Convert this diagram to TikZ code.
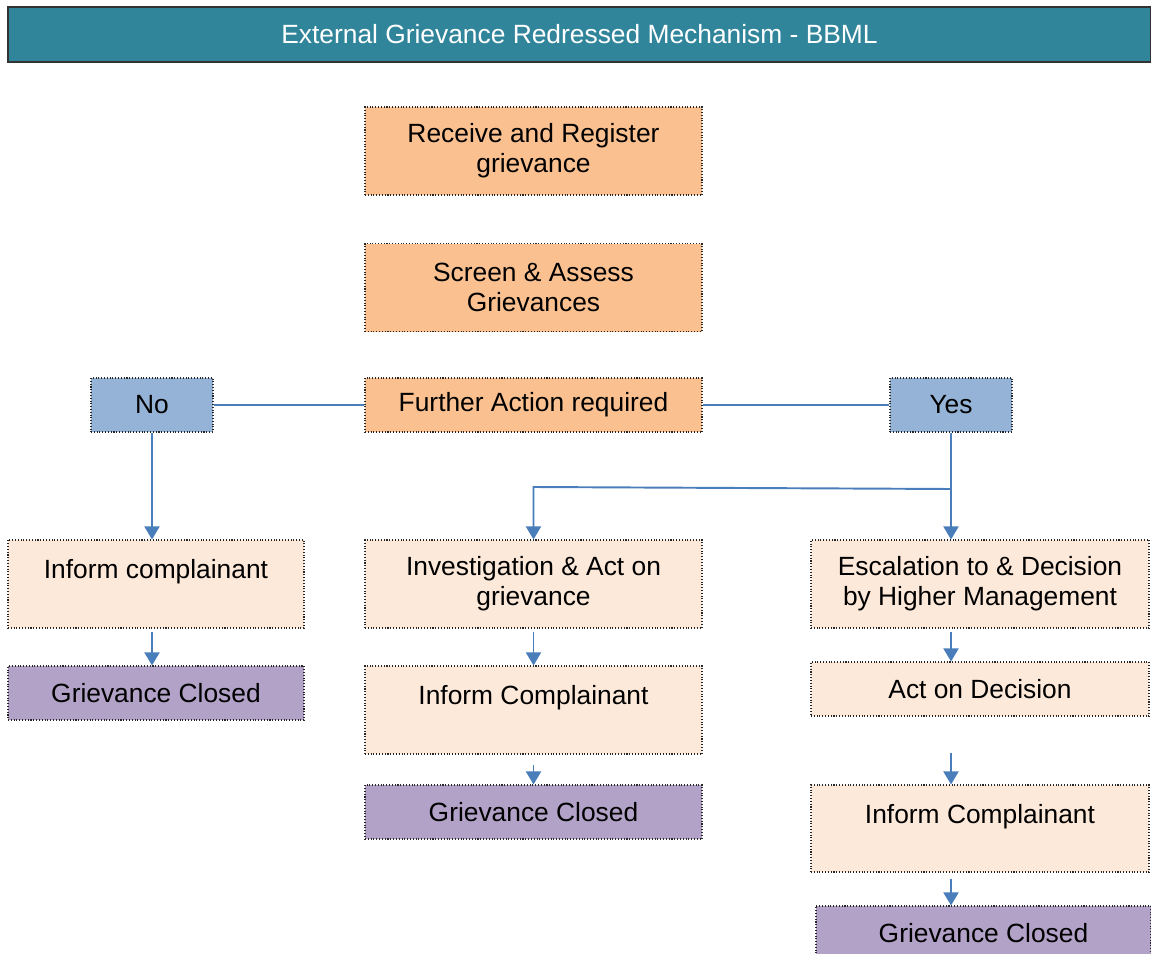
\documentclass[tikz,border=0pt]{standalone}
\usepackage{fontspec}
\setmainfont{Liberation Sans}
\usetikzlibrary{arrows.meta}
\definecolor{titleteal}{RGB}{49,133,155}
\definecolor{stepor}{RGB}{250,192,144}
\definecolor{answerblue}{RGB}{149,179,215}
\definecolor{actpeach}{RGB}{253,233,217}
\definecolor{closedlilac}{RGB}{178,162,199}
\definecolor{linkblue}{RGB}{74,126,187}
\begin{document}
\begin{tikzpicture}[every node/.style={font=\fontsize{15}{17}\selectfont},
  box/.style={draw=black!85, densely dotted, line width=0.6pt, align=center, inner sep=0pt, minimum width=6.74cm},
  tallbox/.style={box, minimum height=1.76cm},
  flatbox/.style={box, minimum height=1.08cm},
  link/.style={linkblue, line width=1.1pt},
  arr/.style={link, -{Triangle[width=0.3cm,length=0.26cm]}}]
  \useasboundingbox (0,0) rectangle (23.02,-19.08);
  % title bar
  \node[draw=black!80, line width=0.8pt, fill=titleteal, text=white, minimum width=22.86cm, minimum height=1.1cm, inner sep=0pt] (title) at (11.59,-0.69) {External Grievance Redressed Mechanism - BBML};
  % main column
  \node[tallbox, fill=stepor] (receive) at (10.67,-3.02) {Receive and Register\\grievance};
  \node[tallbox, fill=stepor] (screen) at (10.67,-5.75) {Screen \& Assess\\Grievances};
  \node[flatbox, fill=stepor] (further) at (10.67,-8.10) {Further Action required};
  \node[flatbox, fill=answerblue, minimum width=2.44cm] (no) at (3.04,-8.10) {No};
  \node[flatbox, fill=answerblue, minimum width=2.44cm] (yes) at (19.02,-8.10) {Yes};
  % no branch
  \node[tallbox, fill=actpeach, minimum width=5.92cm] (informA) at (3.12,-11.68) {Inform complainant\\\mbox{}};
  \node[flatbox, fill=closedlilac, minimum width=5.92cm] (closedA) at (3.12,-13.86) {Grievance Closed};
  % investigation branch
  \node[tallbox, fill=actpeach] (invest) at (10.67,-11.68) {Investigation \& Act on\\grievance};
  \node[tallbox, fill=actpeach] (informB) at (10.67,-14.20) {Inform Complainant\\\mbox{}};
  \node[flatbox, fill=closedlilac] (closedB) at (10.67,-16.24) {Grievance Closed};
  % escalation branch
  \node[tallbox, fill=actpeach, minimum width=6.76cm] (escal) at (19.60,-11.68) {Escalation to \& Decision\\by Higher Management};
  \node[flatbox, fill=actpeach, minimum width=6.76cm] (actdec) at (19.60,-13.78) {Act on Decision};
  \node[tallbox, fill=actpeach, minimum width=6.76cm, minimum height=1.74cm] (informC) at (19.60,-16.57) {Inform Complainant\\\mbox{}};
  \node[flatbox, fill=closedlilac, minimum width=6.70cm] (closedC) at (19.67,-18.66) {Grievance Closed};
  % connectors
  \draw[link] (no) -- (further);
  \draw[link] (further) -- (yes);
  \draw[arr] (no.south) -- (no.south |- informA.north);
  \draw[arr, shorten <=0.06cm] (informA.south -| no.south) -- (closedA.north -| no.south);
  \coordinate (fork) at (19.02,-9.78);
  \coordinate (bend) at (10.67,-9.74);
  \draw[arr] (yes.south) -- (yes.south |- escal.north);
  \draw[arr] (fork) -- (bend) -- (invest.north);
  \draw[arr, shorten <=0.06cm] (invest) -- (informB);
  \draw[arr, shorten <=0.2cm] (informB) -- (closedB);
  \draw[arr, shorten <=0.06cm] (escal.south -| yes.south) -- (actdec.north -| yes.south);
  \draw[arr, shorten <=0.72cm] (actdec.south -| yes.south) -- (informC.north -| yes.south);
  \draw[arr, shorten <=0.12cm] (informC.south -| yes.south) -- (closedC.north -| yes.south);
\end{tikzpicture}
\end{document}
